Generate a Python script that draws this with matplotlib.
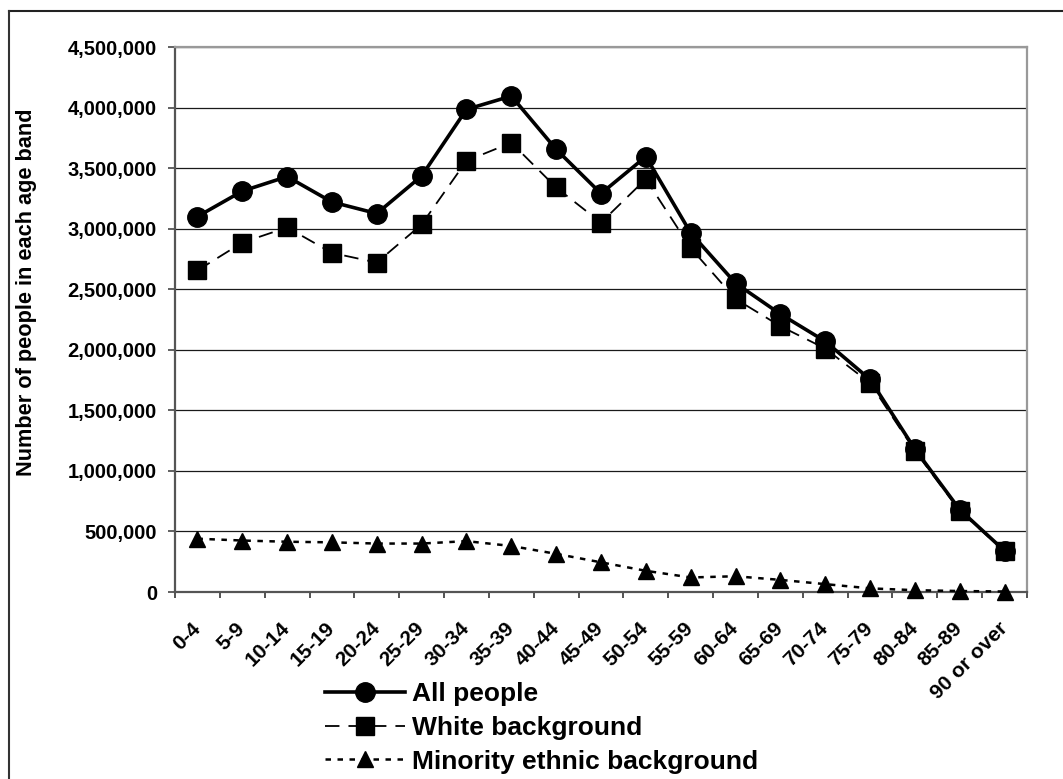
import matplotlib
matplotlib.use("Agg")
import matplotlib.pyplot as plt
from matplotlib.lines import Line2D
from matplotlib.ticker import FuncFormatter, FixedLocator
import numpy as np

plt.rc("font", family=["Liberation Sans", "Arial", "DejaVu Sans"], weight="bold")

age_bands = ["0-4", "5-9", "10-14", "15-19", "20-24", "25-29", "30-34",
             "35-39", "40-44", "45-49", "50-54", "55-59", "60-64", "65-69",
             "70-74", "75-79", "80-84", "85-89", "90 or over"]

# population counts, millions
all_people = [3.100, 3.310, 3.430, 3.220, 3.125, 3.435, 3.985, 4.095, 3.655, 3.290,
              3.595, 2.965, 2.550, 2.295, 2.070, 1.755, 1.180, 0.680, 0.340]
white_background = [2.655, 2.885, 3.010, 2.800, 2.720, 3.035, 3.560, 3.710, 3.340, 3.050,
                    3.410, 2.840, 2.420, 2.195, 2.010, 1.725, 1.165, 0.670, 0.335]
minority_background = [0.440, 0.425, 0.415, 0.410, 0.400, 0.400, 0.420, 0.380, 0.315, 0.245,
                       0.175, 0.120, 0.130, 0.100, 0.065, 0.030, 0.015, 0.008, 0.004]

y_ticks = [0, 500000, 1000000, 1500000, 2000000, 2500000, 3000000, 3500000, 4000000, 4500000]


def plot_ages(save_plot=True):

    W, H = 1063, 779
    fig = plt.figure(figsize=(W / 100, H / 100), dpi=100)
    ax = fig.add_axes([175 / W, 1 - 592 / H, (1027 - 175) / W, (592 - 47) / H])

    x = np.arange(len(age_bands))
    to_people = lambda v: np.array(v) * 1e6

    ax.plot(x, to_people(all_people), color="black", lw=2.6, marker="o", ms=14,
            label="All people", zorder=5)
    ax.plot(x, to_people(white_background), color="black", lw=1.3, ls=(0, (8, 5)),
            marker="s", ms=13.5, label="White background", zorder=4)
    ax.plot(x, to_people(minority_background), color="black", lw=1.8, ls=(0, (2.2, 2.6)),
            marker="^", ms=12, label="Minority ethnic background", zorder=3, clip_on=False)

    ax.set_xlim(-0.5, len(age_bands) - 0.5)
    ax.set_ylim(0, 4500000)

    # ticks on category boundaries, labels in the middle
    ax.xaxis.set_major_locator(FixedLocator(np.arange(len(age_bands) + 1) - 0.5))
    ax.xaxis.set_minor_locator(FixedLocator(x))
    ax.set_xticklabels([], minor=False)
    ax.set_xticklabels(age_bands, minor=True, rotation=45, ha="right", va="center",
                       rotation_mode="anchor", fontsize=15, fontweight="bold")
    ax.tick_params(axis="x", which="major", direction="out", length=4.5, width=1.3, color="#444444")
    ax.tick_params(axis="x", which="minor", length=0, pad=24)

    ax.set_yticks(y_ticks)
    ax.yaxis.set_major_formatter(FuncFormatter(lambda v, p: f"{v:,.0f}"))
    ax.tick_params(axis="y", direction="out", length=5, width=1.3, color="#555555",
                   pad=8, labelsize=14.5)
    for lbl in ax.get_yticklabels():
        lbl.set_fontweight("bold")

    ax.grid(axis="y", color="#1a1a1a", lw=0.9)
    ax.set_axisbelow(True)

    for side in ["left", "bottom"]:
        ax.spines[side].set_color("#555555")
        ax.spines[side].set_linewidth(1.6)
    for side in ["top", "right"]:
        ax.spines[side].set_color("#999999")
        ax.spines[side].set_linewidth(1.6)

    fig.text(27 / W, 1 - 292 / H, "Number of people in each age band", rotation=90,
             ha="center", va="center", fontsize=15.7, fontweight="bold")

    ax.legend(loc="upper left", bbox_to_anchor=(325 / W, 1 - 682 / H),
              bbox_transform=fig.transFigure, frameon=False, borderpad=0,
              borderaxespad=0, handlelength=3.03, handletextpad=0.27,
              labelspacing=0.37, numpoints=1, prop={"size": 19, "weight": "bold"})

    # chart border (clipped at right and bottom)
    fig.add_artist(Line2D([9 / W, 1], [1 - 10.5 / H, 1 - 10.5 / H], color="#222222", lw=1.5,
                          transform=fig.transFigure))
    fig.add_artist(Line2D([9 / W, 9 / W], [1 - 10.5 / H, 0], color="#333333", lw=1.5,
                          transform=fig.transFigure))

    if save_plot:
        plt.savefig("out.png", dpi=100)


if __name__ == '__main__':

    plot_ages()
